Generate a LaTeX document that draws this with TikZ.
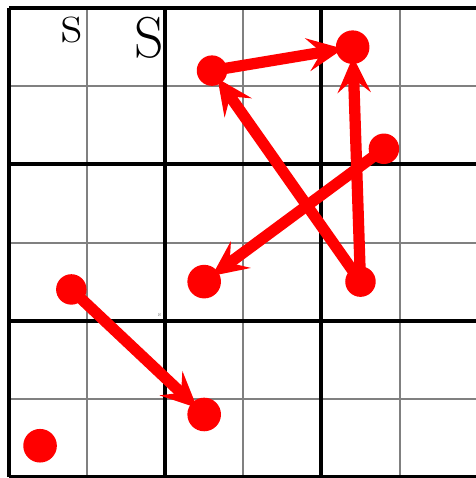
\documentclass[tikz,border=0pt]{standalone}
\usetikzlibrary{arrows.meta}
\begin{document}
\begin{tikzpicture}[
  dotbig/.style={circle, fill=red, draw=none, minimum size=0.43cm, inner sep=0pt},
  dotsmall/.style={circle, fill=red, draw=none, minimum size=0.39cm, inner sep=0pt},
  redarrow/.style={draw=red, line width=4.1pt, shorten >=3.5pt, -{Stealth[length=13pt, width=12pt, inset=5pt]}},
  thingrid/.style={draw=gray, line width=0.73pt},
  thickgrid/.style={draw=black, line width=1.45pt}
]
\useasboundingbox (-0.1126,-0.0128) rectangle (5.978,6.1036);
\draw[thingrid] (0,0) grid (6,6);
\draw[thickgrid] (0,0) grid[step=2] (6,6);
\node[anchor=north east, inner sep=0pt, font=\fontsize{21}{25}\selectfont] (ls) at (0.94,5.89) {s};
\node[anchor=north east, inner sep=0pt, font=\fontsize{21}{25}\selectfont] (us) at (1.99,5.89) {S};
\node[anchor=south east, inner sep=0pt, text=gray, font=\fontsize{2.5}{3}\selectfont] (ts) at (1.96,2.04) {s};
\node[dotsmall] (A) at (2.6,5.2) {};
\node[dotbig] (B) at (4.4,5.5) {};
\node[dotsmall] (C) at (4.8,4.2) {};
\node[dotbig] (D) at (2.5,2.5) {};
\node[dotsmall] (E) at (4.5,2.5) {};
\node[dotsmall] (F) at (0.8,2.4) {};
\node[dotbig] (G) at (2.5,0.8) {};
\node[dotbig] (H) at (0.4,0.4) {};
\draw[redarrow] (F.center) -- (G.center);
\draw[redarrow] (C.center) -- (D.center);
\draw[redarrow] (E.center) -- (A.center);
\draw[redarrow] (A.center) -- (B.center);
\draw[redarrow] (E.center) -- (B.center);
\end{tikzpicture}
\end{document}
